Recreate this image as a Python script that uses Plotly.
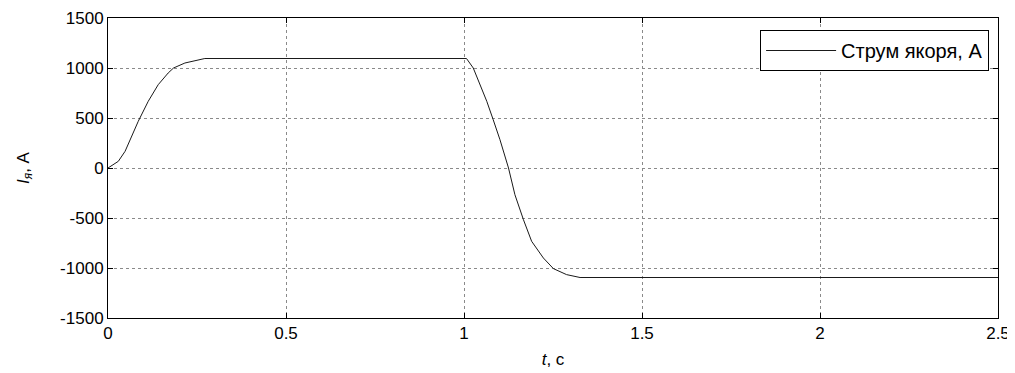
import plotly.graph_objects as go

# Time, s
t = [0, 0.029, 0.048, 0.066, 0.085, 0.113, 0.141, 0.169, 0.184, 0.216, 0.254, 0.272,
     1.0, 1.007, 1.026, 1.045, 1.064, 1.082, 1.101, 1.125, 1.143, 1.167, 1.19, 1.223,
     1.251, 1.288, 1.326, 2.5]
# Armature current, A
current = [0, 67, 167, 317, 467, 667, 833, 950, 1000, 1050, 1077, 1095,
           1095, 1095, 1000, 833, 667, 483, 283, 0, -267, -517, -733, -900,
           -1006, -1066, -1095, -1095]

x_ticks = [0, 0.5, 1, 1.5, 2, 2.5]
x_tick_labels = ["0", "0.5", "1", "1.5", "2", "2.5"]
y_ticks = [-1500, -1000, -500, 0, 500, 1000, 1500]
y_tick_labels = ["-1500", "-1000", "-500", "0", "500", "1000", "1500"]

FONT = "Liberation Sans, Arial, sans-serif"

fig = go.Figure()
fig.add_trace(go.Scatter(
    x=t, y=current, mode="lines", name="Струм якоря, А",
    line=dict(color="#1a1a1a", width=1),
))

axis_common = dict(
    showline=True, linecolor="black", linewidth=1, mirror="ticks",
    ticks="inside", ticklen=5, tickcolor="black",
    showgrid=True, gridcolor="#8a8a8a", griddash="dot", gridwidth=1,
    zeroline=False, automargin=False,
    tickfont=dict(family=FONT, size=17, color="black"),
)

fig.update_xaxes(
    range=[0, 2.5], tickvals=x_ticks, ticktext=x_tick_labels,
    title=dict(text="<i>t</i>, c", font=dict(family=FONT, size=17, color="black"), standoff=10),
    **axis_common,
)
fig.update_yaxes(
    range=[-1500, 1500], tickvals=y_ticks, ticktext=y_tick_labels,
    title=dict(text="<i>I</i><sub><i>я</i></sub>, A", font=dict(family=FONT, size=17, color="black"), standoff=26),
    **axis_common,
)

# page body has an 8px margin, so the figure is sized/offset to compensate
fig.update_layout(
    width=1007, height=365,
    margin=dict(l=100, r=17, t=10, b=55),
    paper_bgcolor="white", plot_bgcolor="white",
    font=dict(family=FONT, size=17, color="black"),
    showlegend=True,
    legend=dict(
        x=0.99, y=0.96, xanchor="right", yanchor="top",
        bgcolor="white", bordercolor="black", borderwidth=1,
        itemwidth=70,
        font=dict(family=FONT, size=20, color="black"),
    ),
)

fig.write_html("out.html")
